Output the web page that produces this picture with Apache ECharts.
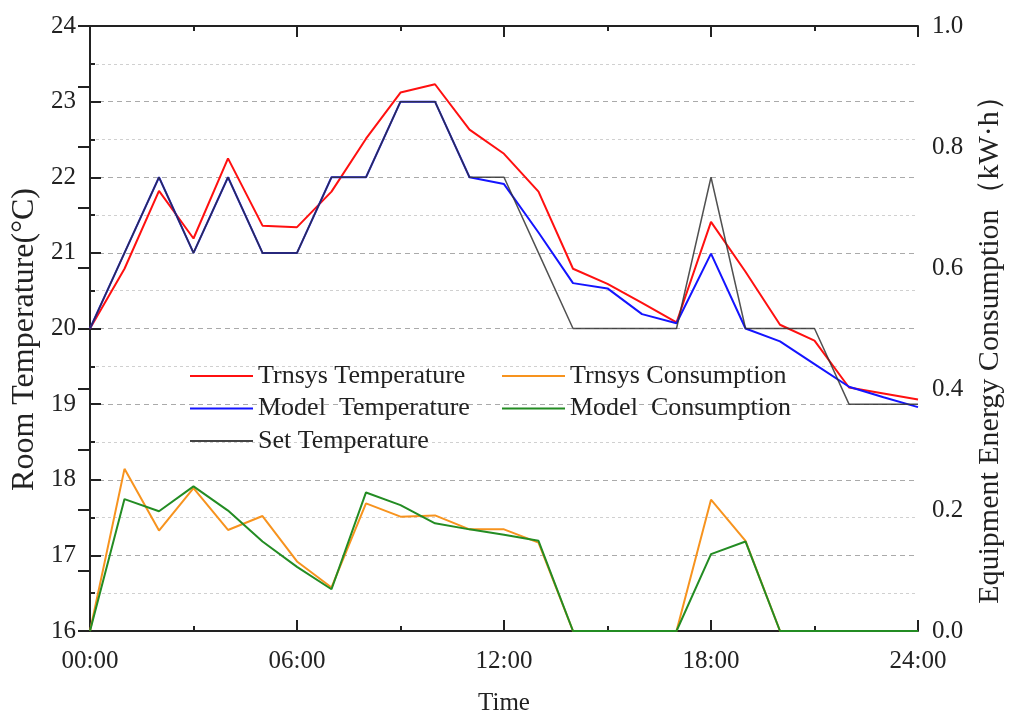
<!DOCTYPE html>
<html>
<head>
<meta charset="utf-8">
<script src="https://cdn.jsdelivr.net/npm/echarts@6/dist/echarts.min.js"></script>
<style>html,body{margin:0;padding:0;background:#fff}#c{width:1010px;height:716px}</style>
</head>
<body>
<div id="c"></div>
<script>
const hours = [0,1,2,3,4,5,6,7,8,9,10,11,12,13,14,15,16,17,18,19,20,21,22,23,24];
const trnsysTemp = [20.0, 20.79, 21.82, 21.19, 22.25, 21.36, 21.34, 21.81, 22.51, 23.12, 23.23, 22.63, 22.31, 21.81, 20.79, 20.59, 20.34, 20.08, 21.41, 20.75, 20.05, 19.84, 19.22, 19.14, 19.06];
const modelTemp = [20, 21, 22, 21, 22, 21, 21, 22, 22, 23, 23, 22, 21.91, 21.27, 20.6, 20.53, 20.19, 20.07, 20.99, 20.0, 19.83, 19.53, 19.23, 19.09, 18.96];
const setTemp = [20, 21, 22, 21, 22, 21, 21, 22, 22, 23, 23, 22, 22, 21, 20, 20, 20, 20, 22, 20, 20, 20, 19, 19, 19];
const trnsysCons = [0, 0.268, 0.166, 0.236, 0.167, 0.19, 0.115, 0.072, 0.211, 0.189, 0.191, 0.168, 0.168, 0.146, 0, 0, 0, 0, 0.217, 0.149, 0, 0, 0, 0, 0];
const modelCons = [0, 0.218, 0.198, 0.239, 0.199, 0.148, 0.106, 0.069, 0.229, 0.208, 0.178, 0.168, 0.159, 0.149, 0, 0, 0, 0, 0.127, 0.148, 0, 0, 0, 0, 0];
const xTickLabels = {0:'00:00', 6:'06:00', 12:'12:00', 18:'18:00', 24:'24:00'};

const pairs = arr => hours.map((h, i) => [h, arr[i]]);
const FONT = "'Liberation Serif','Times New Roman',serif";
const AX = '#222';
const legendText = {fontFamily: FONT, fontSize: 26, color: '#222', lineHeight: 26};

const chart = echarts.init(document.getElementById('c'), null, {renderer: 'canvas'});
chart.setOption({
  animation: false,
  backgroundColor: '#fff',
  textStyle: {fontFamily: FONT},
  grid: {left: 90, right: 92, top: 26, bottom: 85, containLabel: false, outerBoundsMode: 'none'},
  legend: [
    {
      data: ['Trnsys Temperature', 'Model  Temperature', 'Set Temperature'],
      orient: 'vertical', left: 185, top: 358, icon: 'rect', itemWidth: 63, itemHeight: 2, itemGap: 6.5,
      textStyle: legendText
    },
    {
      data: ['Trnsys Consumption', 'Model  Consumption'],
      orient: 'vertical', left: 497, top: 358, icon: 'rect', itemWidth: 63, itemHeight: 2, itemGap: 6.5,
      textStyle: legendText
    }
  ],
  xAxis: [
    {
      type: 'value', min: 0, max: 24, interval: 6, position: 'bottom',
      name: 'Time', nameLocation: 'middle', nameGap: 60,
      nameTextStyle: {fontFamily: FONT, fontSize: 25, color: '#222'},
      axisLine: {show: true, lineStyle: {color: AX, width: 2}},
      axisTick: {show: true, inside: true, length: 11, lineStyle: {color: AX, width: 2}},
      minorTick: {show: true, splitNumber: 2, length: 5, lineStyle: {color: AX, width: 2}},
      axisLabel: {fontFamily: FONT, fontSize: 25, color: '#222', margin: 18, formatter: v => xTickLabels[v] || ''},
      splitLine: {show: false}
    },
    {
      type: 'value', min: 0, max: 24, interval: 6, position: 'top',
      axisLine: {show: true, lineStyle: {color: AX, width: 2}},
      axisTick: {show: true, inside: true, length: 11, lineStyle: {color: AX, width: 2}},
      minorTick: {show: true, splitNumber: 2, length: 5, lineStyle: {color: AX, width: 2}},
      axisLabel: {show: false},
      splitLine: {show: false}
    }
  ],
  yAxis: [
    {
      type: 'value', min: 16, max: 24, interval: 1, position: 'left',
      name: 'Room Temperature(°C)', nameLocation: 'middle', nameGap: 48, nameRotate: 90,
      nameTextStyle: {fontFamily: FONT, fontSize: 32, color: '#222', padding: [0, 22, 0, 0]},
      axisLine: {show: true, lineStyle: {color: AX, width: 2}},
      axisTick: {show: true, inside: true, length: 11, lineStyle: {color: AX, width: 2}},
      minorTick: {show: true, splitNumber: 2, length: 5, lineStyle: {color: AX, width: 2}},
      axisLabel: {fontFamily: FONT, fontSize: 25, color: '#222', margin: 14},
      splitLine: {show: true, lineStyle: {color: '#aaa', width: 1, type: [5, 4]}},
      minorSplitLine: {show: true, lineStyle: {color: '#d0d0d0', width: 1, type: [3, 3]}}
    },
    {
      type: 'value', min: 0, max: 1, interval: 0.2, position: 'right',
      name: 'Equipment Energy Consumption（kW·h）', nameLocation: 'middle', nameGap: 57, nameRotate: 90,
      nameTextStyle: {fontFamily: FONT, fontSize: 30, color: '#222', padding: [0, 28, 0, 0]},
      axisLine: {show: true, lineStyle: {color: AX, width: 2}},
      axisTick: {show: true, inside: true, length: 12, lineStyle: {color: AX, width: 2}},
      minorTick: {show: true, splitNumber: 2, length: 12, lineStyle: {color: AX, width: 2}},
      axisLabel: {fontFamily: FONT, fontSize: 25, color: '#222', margin: 14, formatter: v => v.toFixed(1)},
      splitLine: {show: false}
    }
  ],
  series: [
    {name: 'Trnsys Temperature', type: 'line', xAxisIndex: 0, yAxisIndex: 0, data: pairs(trnsysTemp),
     symbol: 'none', lineStyle: {color: '#ff1010', width: 2}, itemStyle: {color: '#ff1010'}, z: 3},
    {name: 'Model  Temperature', type: 'line', xAxisIndex: 0, yAxisIndex: 0, data: pairs(modelTemp),
     symbol: 'none', lineStyle: {color: '#1414ff', width: 2}, itemStyle: {color: '#1414ff'}, z: 4},
    {name: 'Set Temperature', type: 'line', xAxisIndex: 0, yAxisIndex: 0, data: pairs(setTemp),
     symbol: 'none', lineStyle: {color: '#333', width: 1.5, opacity: 0.85}, itemStyle: {color: '#444'}, z: 5},
    {name: 'Trnsys Consumption', type: 'line', xAxisIndex: 0, yAxisIndex: 1, data: pairs(trnsysCons),
     symbol: 'none', lineStyle: {color: '#f7931e', width: 2}, itemStyle: {color: '#f7931e'}, z: 3},
    {name: 'Model  Consumption', type: 'line', xAxisIndex: 0, yAxisIndex: 1, data: pairs(modelCons),
     symbol: 'none', lineStyle: {color: '#238c23', width: 2}, itemStyle: {color: '#238c23'}, z: 4}
  ]
});
</script>
</body>
</html>
